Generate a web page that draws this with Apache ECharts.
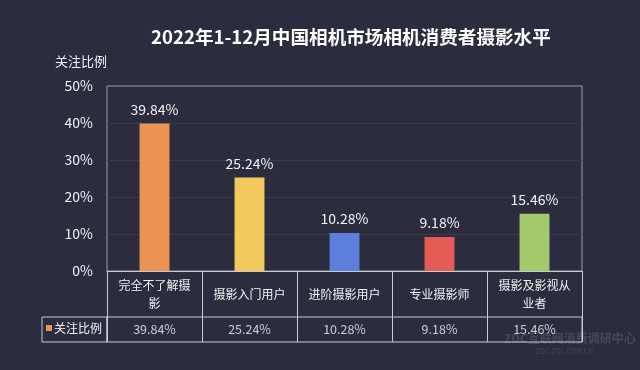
<!DOCTYPE html>
<html>
<head>
<meta charset="utf-8">
<script src="https://cdn.jsdelivr.net/npm/echarts@6/dist/echarts.min.js"></script>
<style>
html,body{margin:0;padding:0;background:#2b2c3e;}
#c{width:640px;height:370px;}
</style>
</head>
<body>
<div id="c"></div>
<script>
var titleText = '2022年1-12月中国相机市场相机消费者摄影水平';
var seriesName = '关注比例';
var categories = ['完全不了解摄影', '摄影入门用户', '进阶摄影用户', '专业摄影师', '摄影及影视从业者'];
var values = [39.84, 25.24, 10.28, 9.18, 15.46];
var barColors = ['#EB9352', '#F2C95D', '#5B7FDA', '#E35D55', '#A5CA6E'];
var yTicks = { min: 0, max: 50, interval: 10 };

var FONT = '"Noto Sans CJK SC", "Noto Sans", sans-serif';
var TXT = '#f2f2f5';
var TABLE = '#c9cad4';

var chart = echarts.init(document.getElementById('c'));
chart.setOption({
  backgroundColor: '#2b2c3e',
  textStyle: { fontFamily: FONT },
  animation: false,
  title: {
    text: titleText,
    left: 146, top: 23,
    textStyle: { color: '#ffffff', fontSize: 18.6, fontWeight: 'bold', fontFamily: FONT }
  },
  legend: {
    data: [seriesName],
    left: 46, top: 322, padding: 0,
    icon: 'rect', itemWidth: 6, itemHeight: 6,
    textStyle: { color: TXT, fontSize: 12, fontFamily: FONT, padding: [0, 0, 0, -3] },
    selectedMode: false
  },
  grid: [
    { left: 107, right: 58, top: 86, bottom: 99, show: true, borderColor: '#9c9dad', borderWidth: 1, backgroundColor: 'transparent' },
    { left: 107, right: 58, top: 317, height: 25, show: true, borderColor: TABLE, borderWidth: 1, backgroundColor: 'transparent' },
    { left: 42, width: 65, top: 317, height: 25, show: true, borderColor: TABLE, borderWidth: 1, backgroundColor: 'transparent' }
  ],
  xAxis: [
    {
      type: 'category', gridIndex: 0, data: categories,
      axisLine: { show: true, lineStyle: { color: TABLE, width: 1 } },
      axisTick: { show: true, interval: 0, length: 46, lineStyle: { color: TABLE, width: 1 } },
      axisLabel: {
        interval: 0, color: TXT, fontSize: 12, fontFamily: FONT,
        width: 80, overflow: 'break', lineHeight: 18,
        margin: 23, verticalAlign: 'middle', align: 'center'
      },
      splitLine: { show: false }
    },
    {
      type: 'category', gridIndex: 1, data: categories,
      axisLine: { show: false }, axisTick: { show: false }, axisLabel: { show: false },
      splitLine: { show: true, interval: 0, lineStyle: { color: TABLE, width: 1 } }
    },
    { type: 'value', gridIndex: 2, show: false }
  ],
  yAxis: [
    {
      type: 'value', gridIndex: 0, min: yTicks.min, max: yTicks.max, interval: yTicks.interval,
      name: seriesName, nameLocation: 'end', nameGap: 18,
      nameTextStyle: { color: TXT, fontSize: 13, align: 'right', fontFamily: FONT },
      axisLine: { show: false }, axisTick: { show: false },
      axisLabel: { color: TXT, fontSize: 14, margin: 14, formatter: '{value}%', fontFamily: FONT },
      splitLine: { show: true, showMaxLine: false, showMinLine: false, lineStyle: { color: '#3a3b4f', width: 1 } }
    },
    {
      type: 'category', gridIndex: 1, data: [seriesName],
      axisLine: { show: false }, axisTick: { show: false }, axisLabel: { show: false }, splitLine: { show: false }
    },
    { type: 'value', gridIndex: 2, show: false }
  ],
  series: [
    {
      name: seriesName, type: 'bar', xAxisIndex: 0, yAxisIndex: 0,
      barWidth: '31.5%',
      itemStyle: { color: barColors[0] },
      data: values.map(function (v, i) { return { value: v, itemStyle: { color: barColors[i] } }; }),
      label: {
        show: true, position: 'top', distance: 7, color: TXT, fontSize: 14, fontFamily: FONT,
        formatter: function (p) { return p.value.toFixed(2) + '%'; }
      }
    },
    {
      name: 'table', type: 'scatter', xAxisIndex: 1, yAxisIndex: 1,
      symbolSize: 1, itemStyle: { color: 'rgba(0,0,0,0)' },
      silent: true,
      data: values.map(function (v, i) { return [i, 0, v]; }),
      label: {
        show: true, position: 'inside', color: TXT, fontSize: 12.5, fontFamily: FONT,
        formatter: function (p) { return p.value[2].toFixed(2) + '%'; }
      }
    }
  ],
  graphic: [
    { type: 'text', left: 504, top: 332, style: { text: 'ZDC互联网消费调研中心', fill: 'rgba(255,255,255,0.13)', font: 'bold 12px ' + FONT } },
    { type: 'text', left: 536, top: 348, style: { text: 'ZDC.ZOL.COM.CN', fill: 'rgba(255,255,255,0.12)', font: '7px ' + FONT } }
  ]
});
</script>
</body>
</html>
